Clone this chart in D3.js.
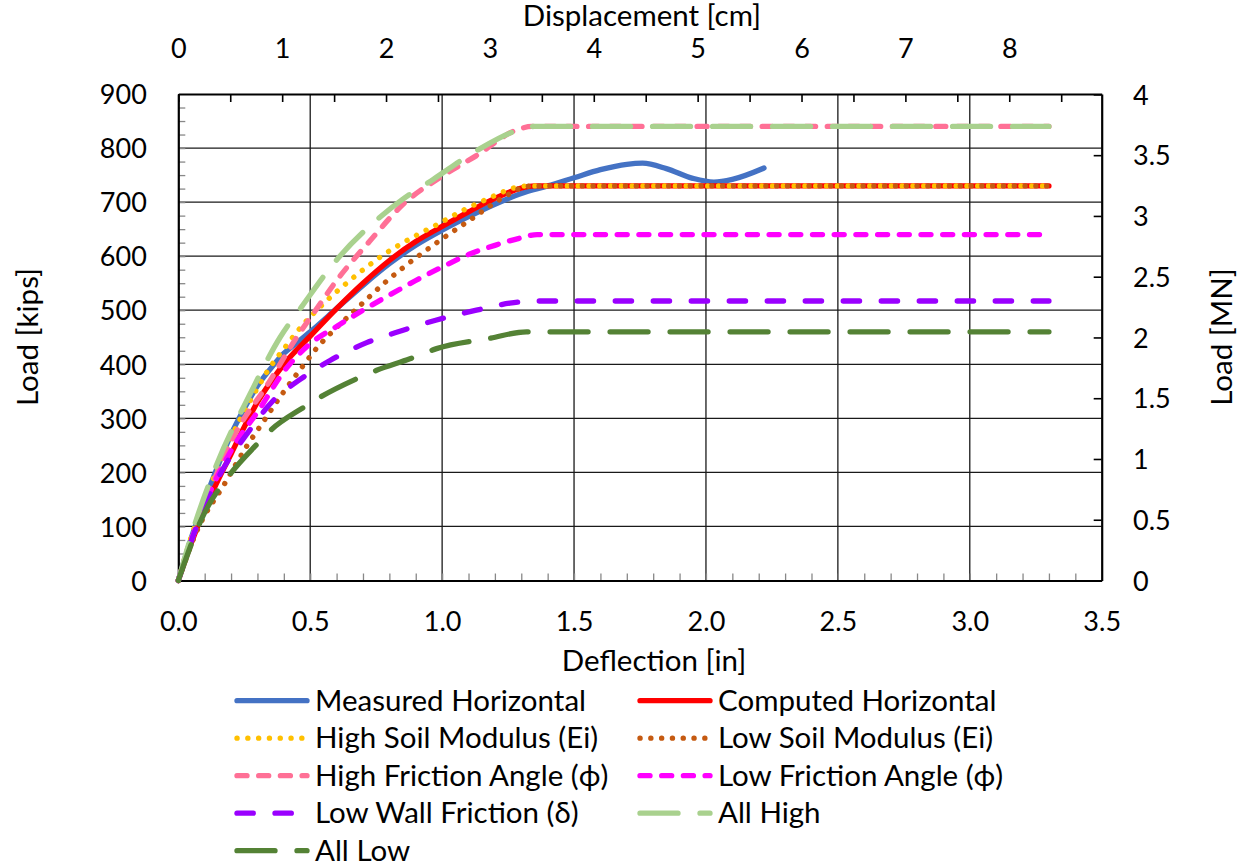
<!DOCTYPE html>
<html>
<head>
<meta charset="utf-8">
<style>
    body, html { margin: 0; padding: 0; background: #fff; }
    svg text { font-family: Lato, "Open Sans", sans-serif; fill: #000; }
</style>
</head>
<body>
<svg width="1245" height="865"></svg>
<script src="https://d3js.org/d3.v7.min.js"></script>
<script>
    // deflection [in], load [kips]
    var measured = [[0,0],[0.05,80],[0.1,148],[0.15,212],[0.2,270],[0.25,318],[0.3,360],[0.35,392],[0.4,420],[0.45,440],[0.5,460],[0.6,503],[0.7,546],[0.8,586],[0.9,620],[1.0,648],[1.1,673],[1.2,696],[1.3,716],[1.4,730],[1.5,745],[1.6,760],[1.7,770],[1.76,772],[1.85,762],[1.95,744],[2.03,737],[2.1,742],[2.22,763]];
    var computed = [[0,0],[0.05,70],[0.1,132],[0.15,185],[0.2,234],[0.25,284],[0.3,330],[0.35,367],[0.4,400],[0.5,452],[0.6,503],[0.7,550],[0.8,592],[0.9,627],[1.0,655],[1.1,682],[1.2,707],[1.3,726],[1.35,730],[3.3,730]];
    var highModulus = [[0,0],[0.05,82],[0.1,150],[0.134,190],[0.2,265],[0.235,299],[0.3,356],[0.335,385],[0.41,435],[0.474,474],[0.55,512],[0.65,555],[0.776,602],[0.9,638],[0.979,658],[1.08,685],[1.168,705],[1.28,727],[1.33,730],[3.3,730]];
    var lowModulus = [[0,0],[0.07,91],[0.178,181],[0.26,249],[0.31,285],[0.398,348],[0.474,398],[0.525,430],[0.6,468],[0.67,500],[0.79,554],[0.92,604],[1.0,632],[1.1,665],[1.23,708],[1.32,729],[1.36,730],[3.3,730]];
    var highFriction = [[0,0],[0.05,75],[0.134,184],[0.222,277],[0.335,360],[0.449,450],[0.525,503],[0.6,555],[0.726,628],[0.85,695],[1.0,748],[1.13,786],[1.28,833],[1.34,840],[3.3,840]];
    var lowFriction = [[0,0],[0.05,75],[0.1,140],[0.222,258],[0.298,310],[0.41,393],[0.5,438],[0.6,470],[0.7,500],[0.8,528],[0.9,555],[1.0,580],[1.1,603],[1.2,620],[1.3,634],[1.36,640],[3.3,640]];
    var lowWall = [[0,0],[0.058,85],[0.159,197],[0.26,271],[0.36,333],[0.462,372],[0.575,407],[0.714,440],[0.852,463],[0.979,482],[1.13,500],[1.256,513],[1.35,517],[3.3,517]];
    var allHigh = [[0,0],[0.058,97],[0.146,215],[0.272,345],[0.386,450],[0.47,508],[0.6,593],[0.764,672],[0.85,705],[0.966,742],[1.13,795],[1.27,830],[1.35,840],[3.3,840]];
    var allLow = [[0,0],[0.096,122],[0.197,197],[0.298,252],[0.348,277],[0.474,320],[0.537,339],[0.675,373],[0.752,389],[0.878,410],[0.979,429],[1.18,448],[1.32,460],[1.36,460],[3.3,460]];

    var seriesNames = ["Measured Horizontal", "Computed Horizontal", "High Soil Modulus (Ei)", "Low Soil Modulus (Ei)",
        "High Friction Angle (\u03D5)", "Low Friction Angle (\u03D5)", "Low Wall Friction (\u03B4)", "All High", "All Low"];
    var seriesData = [measured, computed, highModulus, lowModulus, highFriction, lowFriction, lowWall, allHigh, allLow];

    var xTicks = [0, 0.5, 1, 1.5, 2, 2.5, 3, 3.5];
    var yTicks = [0, 100, 200, 300, 400, 500, 600, 700, 800, 900];
    var cmTicks = [0, 1, 2, 3, 4, 5, 6, 7, 8];
    var mnTicks = [0, 0.5, 1, 1.5, 2, 2.5, 3, 3.5, 4];

    // line styles (excel-like)
    var styles = [
        { color: "#4472C4", dash: null },
        { color: "#FF0000", dash: null },
        { color: "#FFC000", dash: "0.1 10.7" },
        { color: "#C55A11", dash: "0.1 10.7" },
        { color: "#FF7096", dash: "10 11.7" },
        { color: "#FF00FF", dash: "10 11.7" },
        { color: "#9A00FF", dash: "16.3 21.7" },
        { color: "#A9D18E", dash: "38 22" },
        { color: "#548235", dash: "38 22" }
    ];

    var svg = d3.select("svg");
    var pLeft = 178.3, pRight = 1101.7, pTop = 94, pBottom = 580.5;
    var tickFont = 27, textFont = 29.5;

    var x = d3.scaleLinear().domain([0, 3.5]).range([pLeft, pRight]);
    var xcm = d3.scaleLinear().domain([0, 3.5 * 2.54]).range([pLeft, pRight]);
    var y = d3.scaleLinear().domain([0, 900]).range([pBottom, pTop]);
    var yMN = d3.scaleLinear().domain([0, 0.9 * 4.44822]).range([pBottom, pTop]);

    // GRID
    var grid = svg.append("g");
    grid.selectAll("line.v").data(xTicks.slice(1, -1)).enter().append("line")
        .attr("x1", d => x(d)).attr("x2", d => x(d)).attr("y1", pTop).attr("y2", pBottom)
        .attr("stroke", "#1a1a1a").attr("stroke-width", 1.3);
    grid.selectAll("line.h").data(yTicks.slice(1, -1)).enter().append("line")
        .attr("x1", pLeft).attr("x2", pRight).attr("y1", d => y(d)).attr("y2", d => y(d))
        .attr("stroke", "#1a1a1a").attr("stroke-width", 1.3);

    // MINOR TICKS
    svg.append("g").attr("transform", "translate(0," + pBottom + ")")
        .call(d3.axisBottom(x).tickValues(d3.range(1, 35).map(d => d / 10)).tickSize(-7).tickFormat(""))
        .call(g => g.select(".domain").remove())
        .selectAll("line").attr("stroke", "#888").attr("stroke-width", 1.3);
    svg.append("g").attr("transform", "translate(" + pLeft + ",0)")
        .call(d3.axisLeft(y).tickValues(d3.range(1, 36).map(d => d * 25)).tickSize(-7).tickFormat(""))
        .call(g => g.select(".domain").remove())
        .selectAll("line").attr("stroke", "#888").attr("stroke-width", 1.3);
    svg.append("g").attr("transform", "translate(0," + pTop + ")")
        .call(d3.axisTop(xcm).tickValues(d3.range(0, 18).map(d => d / 2)).tickSize(-8).tickFormat(""))
        .call(g => g.select(".domain").remove())
        .selectAll("line").attr("stroke", "#000").attr("stroke-width", 1.6);

    // AXES
    var gx = svg.append("g").attr("transform", "translate(0," + pBottom + ")")
        .call(d3.axisBottom(x).tickValues(xTicks).tickFormat(d3.format(".1f")).tickSize(0).tickSizeOuter(0));
    gx.selectAll("text").attr("y", 50).attr("dy", null);

    var gt = svg.append("g").attr("transform", "translate(0," + pTop + ")")
        .call(d3.axisTop(xcm).tickValues(cmTicks).tickFormat(d3.format("d")).tickSize(0).tickSizeOuter(0));
    gt.selectAll("text").attr("y", -36).attr("dy", null);

    var gy = svg.append("g").attr("transform", "translate(" + pLeft + ",0)")
        .call(d3.axisLeft(y).tickValues(yTicks).tickSize(0).tickSizeOuter(0));
    gy.selectAll("text").attr("x", -31.5).attr("dy", "0.36em");

    var gr = svg.append("g").attr("transform", "translate(" + pRight + ",0)")
        .call(d3.axisRight(yMN).tickValues(mnTicks).tickFormat(d3.format("~g")).tickSize(-8).tickSizeOuter(0));
    gr.selectAll("text").attr("x", 31.3).attr("dy", "0.36em");
    gr.selectAll(".tick line").attr("stroke", "#000").attr("stroke-width", 1.6);

    svg.selectAll(".domain").attr("stroke", "#000").attr("stroke-width", 2.2);
    svg.selectAll(".tick text").attr("font-size", tickFont).attr("font-family", "Lato, sans-serif");

    // SERIES
    var line = d3.line().x(d => x(d[0])).y(d => y(d[1])).curve(d3.curveMonotoneX);
    seriesData.forEach(function (data, i) {
        svg.append("path").datum(data)
            .attr("d", line)
            .attr("fill", "none")
            .attr("stroke", styles[i].color)
            .attr("stroke-width", 5.33)
            .attr("stroke-linecap", "round")
            .attr("stroke-linejoin", "round")
            .attr("stroke-dasharray", styles[i].dash);
    });

    // TITLES
    svg.append("text").attr("x", 642).attr("y", 26).attr("text-anchor", "middle")
        .attr("font-size", textFont).text("Displacement [cm]");
    svg.append("text").attr("x", 654).attr("y", 671).attr("text-anchor", "middle")
        .attr("font-size", textFont).text("Deflection [in]");
    svg.append("text").attr("transform", "translate(38,337) rotate(-90)").attr("text-anchor", "middle")
        .attr("font-size", textFont).text("Load [kips]");
    svg.append("text").attr("transform", "translate(1232,337) rotate(-90)").attr("text-anchor", "middle")
        .attr("font-size", textFont).text("Load [MN]");

    // LEGEND
    var legend = svg.append("g");
    seriesNames.forEach(function (name, i) {
        var col = i % 2, row = Math.floor(i / 2);
        var lx = col === 0 ? 237 : 640;
        var ly = 700.7 + row * 37.5;
        legend.append("line")
            .attr("x1", lx).attr("x2", lx + 70).attr("y1", ly).attr("y2", ly)
            .attr("stroke", styles[i].color)
            .attr("stroke-width", 5.33)
            .attr("stroke-linecap", "round")
            .attr("stroke-dasharray", styles[i].dash);
        legend.append("text")
            .attr("x", lx + 78).attr("y", ly + 10)
            .attr("font-size", textFont)
            .text(name);
    });
</script>
</body>
</html>
